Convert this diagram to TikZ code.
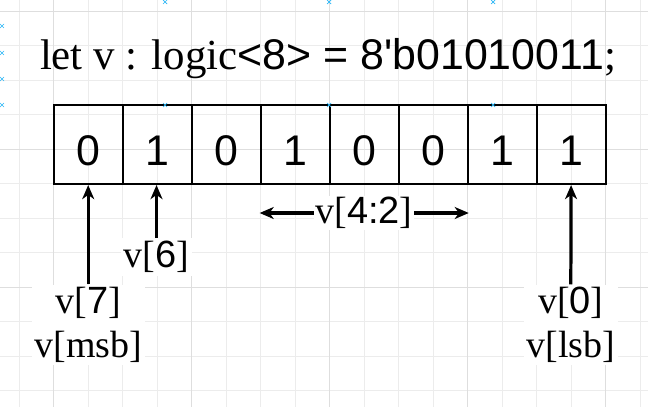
\documentclass[tikz,border=0pt]{standalone}
\usepackage{fontspec}
\setmainfont{Liberation Serif}
\newfontfamily\arialf{Liberation Sans}
\usetikzlibrary{arrows,arrows.meta,positioning}

\definecolor{gridminor}{RGB}{236,236,236}
\definecolor{gridmajor}{RGB}{222,222,222}
\definecolor{markblue}{RGB}{41,182,246}
\newcommand{\nm}[1]{{\arialf #1}}

\begin{document}
\begin{tikzpicture}[
  x=0.025cm, y=-0.025cm,
  bitcell/.style={draw, line width=1.5pt, minimum width=1.725cm, minimum height=1.975cm,
    inner sep=0pt, text height=29.5pt, font=\arialf\fontsize{30.5}{30.5}\selectfont},
  idxlabel/.style={fill=white, inner sep=2pt, align=center, font=\fontsize{27}{31}\selectfont},
  pointer/.style={draw, ->, >={Stealth[length=10pt,width=8.5pt,inset=3pt]}, line width=2.3pt},
  handle/.style={markblue, line width=0.5pt}
]
\useasboundingbox (0,0) rectangle (648,407);
\fill[white] (0,0) rectangle (648,407);

% background grid
\foreach \k in {-1,...,17}
  \draw[gridminor, line width=0.5pt] (53.7+34.5*\k,0) -- (53.7+34.5*\k,407);
\foreach \k in {0,...,11}
  \draw[gridminor, line width=0.5pt] (0,11+34.5*\k) -- (648,11+34.5*\k);
\foreach \k in {0,...,4}
  \draw[gridmajor, line width=0.6pt] (53.7+138*\k,0) -- (53.7+138*\k,407);
\foreach \k in {0,...,2}
  \draw[gridmajor, line width=0.6pt] (0,11+138*\k) -- (648,11+138*\k);

% title
\node[anchor=base, inner sep=0pt, font=\fontsize{30.5}{30.5}\selectfont] (title) at (328,69)
  {let v : logic\nm{<8> = 8\textquotesingle b01010011};};

% the eight bits, msb on the left
\foreach \v [count=\i from 0] in {0,1,0,1,0,0,1,1} {
  \pgfmathtruncatemacro\b{7-\i}
  \node[bitcell] (c\b) at (88.2+69*\i,144.5) {\v};
}

% index labels
\node[idxlabel] (l6) at (156.5,257) {v[\nm{6}]};
\node[idxlabel] (l7) at (88.2,325) {v[\nm{7}]\\v[msb]};
\node[idxlabel] (l0) at (570.7,325) {v[\nm{0}]\\v[lsb]};
\node[idxlabel, inner sep=1pt] (l42) at (364,213) {v[\nm{4:2}]};

\draw[pointer] (l7) -- (c7);
\draw[pointer] (l6) -- (l6 |- c6.south);
\draw[pointer] (l0) -- (c0);
\draw[pointer] (l42.west) -- (c4.south west |- l42.west);
\draw[pointer] (l42.east) -- (c2.south east |- l42.east);

% selection handles
\foreach \p in {(165,2),(329,2),(493,2),(2,26),(2,53),(2,79),(2,105),(165,105),(329,105),(493,105)}
  \draw[handle] \p ++(-2,-2) -- ++(4,4) \p ++(-2,2) -- ++(4,-4);
\end{tikzpicture}
\end{document}
